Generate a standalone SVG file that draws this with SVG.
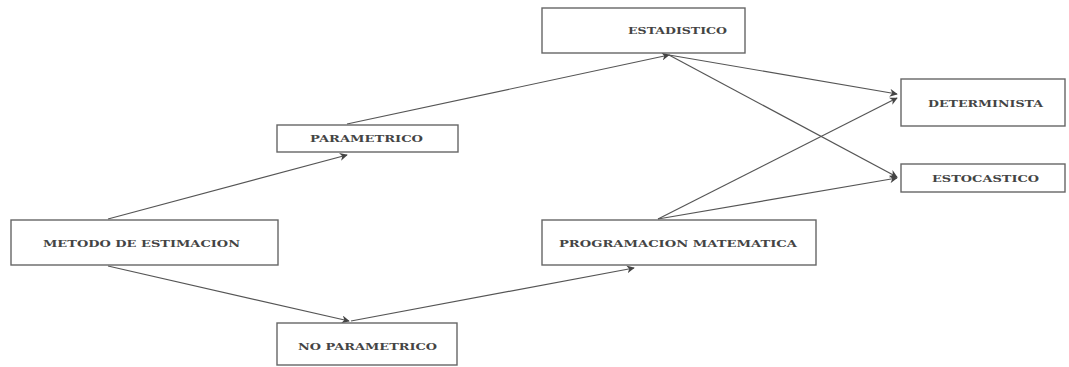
<svg xmlns="http://www.w3.org/2000/svg" width="1069" height="367" viewBox="0 0 1069 367">
<style>
.box{fill:#fff;stroke:#666;stroke-width:1.4}
.lbl{font-family:"DejaVu Serif","Liberation Serif",serif;font-size:10px;font-weight:bold;fill:#444;text-anchor:start;dominant-baseline:central}
.con{stroke:#555;stroke-width:1.2;fill:none;marker-end:url(#ah)}
</style>
<defs>
<marker id="ah" viewBox="0 0 10 10" refX="9" refY="5" markerWidth="8" markerHeight="8" markerUnits="userSpaceOnUse" orient="auto">
<path d="M0,0 L10,5 L0,10 L3,5 Z" fill="#444"/>
</marker>
</defs>
<rect width="1069" height="367" fill="#fff"/>
<g id="connectors">
<line class="con" x1="108" y1="219" x2="347" y2="155"/>
<line class="con" x1="108" y1="266" x2="349" y2="321"/>
<line class="con" x1="347" y1="124" x2="669" y2="55"/>
<line class="con" x1="351" y1="321" x2="634" y2="268"/>
<line class="con" x1="669" y1="55" x2="897" y2="94"/>
<line class="con" x1="669" y1="55" x2="897" y2="177"/>
<line class="con" x1="658" y1="219" x2="897" y2="98"/>
<line class="con" x1="658" y1="219" x2="897" y2="178"/>
</g>
<g id="metodo">
<rect class="box" x="11" y="220" width="267" height="45"/>
<text class="lbl" x="43" y="243" textLength="197" lengthAdjust="spacingAndGlyphs">METODO DE ESTIMACION</text>
</g>
<g id="parametrico">
<rect class="box" x="277" y="125" width="181" height="27"/>
<text class="lbl" x="310" y="138.5" textLength="113" lengthAdjust="spacingAndGlyphs">PARAMETRICO</text>
</g>
<g id="noparametrico">
<rect class="box" x="277" y="323" width="180" height="42"/>
<text class="lbl" x="298" y="346" textLength="139" lengthAdjust="spacingAndGlyphs">NO PARAMETRICO</text>
</g>
<g id="estadistico">
<rect class="box" x="542" y="8" width="203" height="45"/>
<text class="lbl" x="628" y="30.5" textLength="99" lengthAdjust="spacingAndGlyphs">ESTADISTICO</text>
</g>
<g id="programacion">
<rect class="box" x="542" y="220" width="274" height="45"/>
<text class="lbl" x="559" y="243" textLength="238" lengthAdjust="spacingAndGlyphs">PROGRAMACION MATEMATICA</text>
</g>
<g id="determinista">
<rect class="box" x="901" y="79" width="164" height="47"/>
<text class="lbl" x="928" y="103" textLength="115" lengthAdjust="spacingAndGlyphs">DETERMINISTA</text>
</g>
<g id="estocastico">
<rect class="box" x="901" y="164" width="164" height="28"/>
<text class="lbl" x="932" y="178.5" textLength="107" lengthAdjust="spacingAndGlyphs">ESTOCASTICO</text>
</g>
</svg>
